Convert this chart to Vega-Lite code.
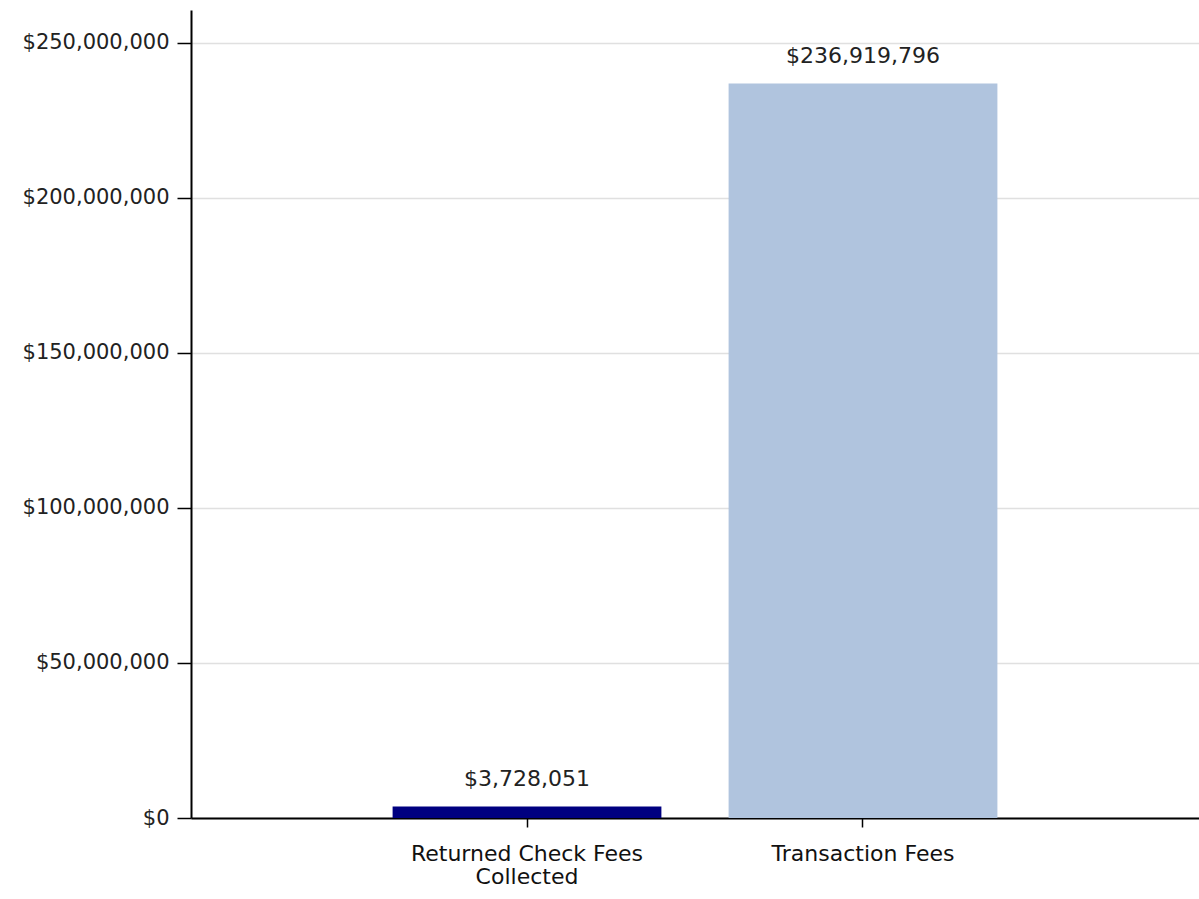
{
  "$schema": "https://vega.github.io/schema/vega-lite/v6.json",
  "width": 1008,
  "height": 808,
  "autosize": {"type": "none"},
  "padding": {"left": 191, "top": 10, "right": 0, "bottom": 81},
  "background": "white",
  "data": {
    "values": [
      {"category": "Returned Check Fees Collected", "amount": 3728051},
      {"category": "Transaction Fees", "amount": 236919796}
    ]
  },
  "config": {
    "view": {"stroke": null},
    "font": "DejaVu Sans"
  },
  "encoding": {
    "x": {
      "field": "category",
      "type": "nominal",
      "sort": null,
      "scale": {"paddingInner": 0.2, "paddingOuter": 0.6},
      "axis": {
        "title": null,
        "labelAngle": 0,
        "labelFont": "DejaVu Sans",
        "labelFontSize": 22,
        "labelColor": "#111111",
        "labelPadding": 16,
        "labelLimit": 0,
        "labelLineHeight": 23,
        "labelBaseline": "top",
        "labelExpr": "datum.value == 'Returned Check Fees Collected' ? ['Returned Check Fees', 'Collected'] : datum.value",
        "domainColor": "#000000",
        "domainWidth": 2,
        "tickColor": "#000000",
        "tickWidth": 1.5,
        "tickSize": 9,
        "grid": false
      }
    },
    "y": {
      "field": "amount",
      "type": "quantitative",
      "scale": {"domain": [0, 260600000], "nice": false},
      "axis": {
        "title": null,
        "values": [0, 50000000, 100000000, 150000000, 200000000, 250000000],
        "format": "$,d",
        "labelFont": "DejaVu Sans",
        "labelFontSize": 21,
        "labelColor": "#222222",
        "labelPadding": 8,
        "domainColor": "#000000",
        "domainWidth": 2,
        "tickColor": "#000000",
        "tickWidth": 1.5,
        "tickSize": 14,
        "grid": true,
        "gridColor": "#e0e0e0",
        "gridWidth": 1.5
      }
    }
  },
  "layer": [
    {
      "mark": {"type": "bar"},
      "encoding": {
        "color": {
          "field": "category",
          "type": "nominal",
          "scale": {
            "domain": ["Returned Check Fees Collected", "Transaction Fees"],
            "range": ["#000080", "#b0c4de"]
          },
          "legend": null
        }
      }
    },
    {
      "mark": {"type": "text", "baseline": "middle", "align": "center", "dy": -27, "fontSize": 22, "font": "DejaVu Sans", "color": "#222222"},
      "encoding": {
        "text": {"field": "amount", "type": "quantitative", "format": "$,d"}
      }
    }
  ]
}
